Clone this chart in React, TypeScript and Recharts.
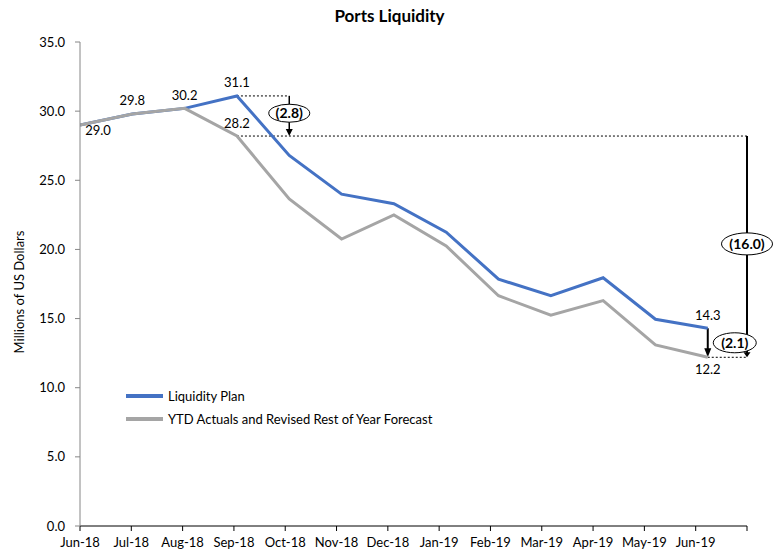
import {
  LineChart,
  Line,
  XAxis,
  YAxis,
  ReferenceLine,
  ReferenceDot,
  LabelList,
  Label,
} from 'recharts';

// ─── Data ─────────────────────────────────────────────────────────────────────

const months = ['Jun-18', 'Jul-18', 'Aug-18', 'Sep-18', 'Oct-18', 'Nov-18', 'Dec-18', 'Jan-19', 'Feb-19', 'Mar-19', 'Apr-19', 'May-19', 'Jun-19'];
const liquidityPlan = [29.0, 29.8, 30.2, 31.1, 26.8, 24.0, 23.3, 21.25, 17.85, 16.65, 17.95, 14.95, 14.3];
const ytdActuals = [29.0, 29.8, 30.2, 28.2, 23.65, 20.75, 22.5, 20.25, 16.65, 15.25, 16.3, 13.1, 12.2];
const yTicks = [0, 5, 10, 15, 20, 25, 30, 35];

// labels shown on the points: index -> where
const planLabels: Record<number, string> = { 3: 'above', 12: 'above' };
const actualLabels: Record<number, string> = { 0: 'belowRight', 1: 'above', 2: 'above', 3: 'above', 12: 'below' };

// differences called out on the right
const sepGap = { from: 31.1, to: 28.2, text: '(2.8)' };
const junGap = { from: 14.3, to: 12.2, text: '(2.1)' };
const totalGap = { from: 28.2, to: 12.2, text: '(16.0)' };

const rows = months.map((m, i) => ({ idx: i, month: m, plan: liquidityPlan[i], actual: ytdActuals[i] }));

const series = [
  { key: 'plan', name: 'Liquidity Plan', color: '#4472C4', labels: planLabels },
  { key: 'actual', name: 'YTD Actuals and Revised Rest of Year Forecast', color: '#A5A5A5', labels: actualLabels },
];

// ─── Look ─────────────────────────────────────────────────────────────────────

const FONT = 'Lato, "Open Sans", sans-serif';
const LINE_AXIS_MAX = 12.75; // lines run a bit wider than the month ticks
const AXIS_END = 12.75;

function makePointLabel(which: Record<number, string>) {
  return (p: any) => {
    const pos = which[p.index];
    if (!pos) return null;
    let dx = 0;
    let dy = -8.5;
    if (pos === 'below') dy = 16.5;
    if (pos === 'belowRight') { dx = 18; dy = 10.5; }
    return (
      <text x={p.x + dx} y={p.y + dy} textAnchor="middle" fontSize={13} fontFamily={FONT} fill="#000">
        {Number(p.value).toFixed(1)}
      </text>
    );
  };
}

function Arrow(props: any) {
  const { x1, y1, x2, y2 } = props;
  const head = props.head ?? 7;
  return (
    <g>
      <line x1={x1} y1={y1} x2={x2} y2={y2 - head + 1} stroke="#000" strokeWidth={props.w ?? 1.5} />
      <polygon points={`${x2 - 3.5},${y2 - head} ${x2 + 3.5},${y2 - head} ${x2},${y2}`} fill="#000" />
    </g>
  );
}

function Dotted(props: any) {
  const { x1, y1, x2, y2 } = props;
  return <line x1={x1} y1={y1} x2={x2} y2={y2} stroke="#000" strokeWidth={1} strokeDasharray="2 2" />;
}

function bubble(text: string, w: number, h: number, dx = 0) {
  return (p: any) => (
    <g>
      <ellipse cx={p.cx + dx} cy={p.cy} rx={w / 2} ry={h / 2} fill="#fff" stroke="#000" strokeWidth={1} />
      <text x={p.cx + dx} y={p.cy + 5} textAnchor="middle" fontSize={14} fontWeight="bold" fontFamily={FONT} fill="#000">
        {text}
      </text>
    </g>
  );
}

function YTitle({ viewBox }: any) {
  const x = viewBox.x + 19;
  const y = viewBox.y + viewBox.height / 2 + 8;
  return (
    <text x={x} y={y} transform={`rotate(-90, ${x}, ${y})`} textAnchor="middle" dominantBaseline="central" fontSize={13} fontFamily={FONT} fill="#000">
      Millions of US Dollars
    </text>
  );
}

function LegendBox() {
  return (
    <div style={{ position: 'absolute', left: 126, top: 384, fontFamily: FONT, fontSize: 13, color: '#000' }}>
      {series.map((s) => (
        <div key={s.key} style={{ display: 'flex', alignItems: 'center', height: 23 }}>
          <span style={{ display: 'inline-block', width: 37, height: 4, background: s.color, marginRight: 5 }} />
          {s.name}
        </div>
      ))}
    </div>
  );
}

export default function App() {
  return (
    <div style={{ position: 'absolute', left: 0, top: 0, width: 779, height: 554, background: '#fff', fontFamily: FONT }}>
      <div style={{ position: 'absolute', left: 0, width: 779, top: 5, textAlign: 'center', fontWeight: 'bold', fontSize: 17, color: '#000' }}>
        Ports Liquidity
      </div>
      <LineChart width={779} height={554} data={rows} margin={{ top: 42, right: 32, left: 0, bottom: 0 }}>
        <XAxis
          xAxisId="cat"
          type="number"
          dataKey="idx"
          domain={[0, 13]}
          ticks={[0, 1, 2, 3, 4, 5, 6, 7, 8, 9, 10, 11, 12, 13]}
          allowDataOverflow
          tickFormatter={(i: number) => months[i] ?? ''}
          interval={0}
          height={28}
          stroke="#000"
          tickSize={5}
          tickMargin={7}
          tick={{ fill: '#000', fontSize: 13, fontFamily: FONT }}
        />
        <XAxis xAxisId="line" type="number" dataKey="idx" domain={[0, LINE_AXIS_MAX]} allowDataOverflow hide />
        <YAxis
          type="number"
          domain={[0, 35]}
          ticks={yTicks}
          width={80}
          stroke="#868686"
          tickSize={5}
          tickMargin={10}
          tickFormatter={(v: number) => v.toFixed(1)}
          tick={{ fill: '#000', fontSize: 13, fontFamily: FONT }}
        >
          <Label position="insideLeft" content={<YTitle />} />
        </YAxis>

        <ReferenceLine xAxisId="line" segment={[{ x: 3, y: sepGap.from }, { x: 4, y: sepGap.from }]} shape={Dotted} />
        <ReferenceLine xAxisId="line" segment={[{ x: 3, y: totalGap.from }, { x: AXIS_END, y: totalGap.from }]} shape={Dotted} ifOverflow="visible" />
        <ReferenceLine xAxisId="line" segment={[{ x: 12, y: junGap.to }, { x: AXIS_END, y: junGap.to }]} shape={Dotted} ifOverflow="visible" />
        <ReferenceLine xAxisId="line" segment={[{ x: 4, y: sepGap.from }, { x: 4, y: sepGap.to }]} shape={(p: any) => <Arrow {...p} w={1.5} />} />
        <ReferenceLine xAxisId="line" segment={[{ x: 12, y: junGap.from }, { x: 12, y: junGap.to }]} shape={(p: any) => <Arrow {...p} w={2} head={9} />} />
        <ReferenceLine xAxisId="line" segment={[{ x: AXIS_END, y: totalGap.from }, { x: AXIS_END, y: totalGap.to }]} shape={(p: any) => <Arrow {...p} w={2} head={5} />} ifOverflow="visible" />

        {series.map((s) => (
          <Line
            key={s.key}
            xAxisId="line"
            name={s.name}
            dataKey={s.key}
            stroke={s.color}
            strokeWidth={3}
            dot={false}
            activeDot={false}
            isAnimationActive={false}
          >
            <LabelList dataKey={s.key} content={makePointLabel(s.labels)} />
          </Line>
        ))}

        <ReferenceDot xAxisId="line" x={4} y={(sepGap.from + sepGap.to) / 2 + 0.2} shape={bubble(sepGap.text, 41, 18)} />
        <ReferenceDot xAxisId="line" x={AXIS_END} y={(totalGap.from + totalGap.to) / 2 + 0.2} shape={bubble(totalGap.text, 51, 22)} ifOverflow="visible" />
        <ReferenceDot xAxisId="line" x={12} y={(junGap.from + junGap.to) / 2} shape={bubble(junGap.text, 43, 20, 27)} />
      </LineChart>
      <LegendBox />
    </div>
  );
}
